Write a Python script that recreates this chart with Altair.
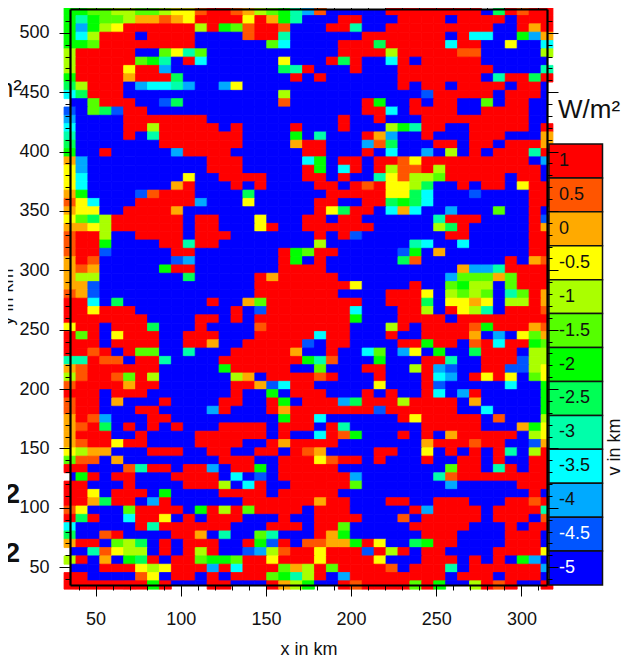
import altair as alt
import pandas as pd

levels = [1, 0.5, 0, -0.5, -1, -1.5, -2, -2.5, -3, -3.5, -4, -4.5, -5]
labels = ["1", "0.5", "0", "-0.5", "-1", "-1.5", "-2", "-2.5", "-3", "-3.5", "-4", "-4.5", "-5"]
colors = ["#FF0000", "#FF5500", "#FFAA00", "#FFFF00", "#AAFF00", "#55FF00", "#00FF00",
          "#00FF55", "#00FFAA", "#00FFFF", "#00AAFF", "#0055FF", "#0000FF"]
codes = "RUOJLHGSTYCNB"

rows = [
 "GGHHLLHHLJJURRUOLHGTCUBBBBBRRRRRRRRBSRURR",
 "GTGHHLOOUOJRRRRJROGTBBBRRBBBRRRRBRRRRBRRR",
 "GCGLJRRRRRRLRGHURRUBBBRRTBBRRRRRRRRRBBROR",
 "GYLRRRBRRRRBBBBURRTBBBBBBRRRRRRRBRYYBBGCO",
 "GGHRRRRRRRRBBBBBBHYBBBBRRRSRRRRRYRRBBJBBY",
 "LRRRRRBBHJTHBBBBBBBBBBBRRRRLRRRRRUUBBBBBL",
 "LRRRRRHGTBRYBBBBBBJBBBRSRBBYRBRRRRRBBBBBB",
 "LRRRRJRRCBBBBBBBBBSTRBBBRBBBRRRRRRRRBBBBT",
 "GRRRRORRRSBBBBBBBBBRBRBBBBBBRRRRRRRBTRRSR",
 "SLRRRBCYYTCBBCJBBBBBBBBBBBBBRBRRBRRRRBRRB",
 "YSRRRBBBBBBBBBBBBBLBBBBBBBBBBBNRRRRRBRRRB",
 "BBHRRRBBNSBBBBBBBBUBBBBBBRGBBRBRRBBHBRRBB",
 "NBHSNRRBBBBBBBBBBBBBBBBBBRRYBRRRRBBRRRRBB",
 "CBBBBRRRRRRRBBBBBBBBBBBRBBRBBBRRRRRRRRRBB",
 "YBBBBRRLRRRRRBRBBBBRBBBRBBBLGTRRBBRRRRRBR",
 "TBBBBRBTRRRRRRRBBBBGBTBBBROCBBRBBBRRRBBBO",
 "SBBBBBBBRRRRRRRBBBBORRBBBCUSBBBRRBRRBRRRO",
 "GBBRBBBBBCRRRRBBBBBBRRBBBRBYBBCBLBRBRRRTR",
 "OCBBBBBBBBBBRRRBBBBBYGBRRBRRUJRRRRRRRRRBC",
 "JCBBBBBBBBBBRRRBBBBBRGBYRBRLUURLRRRRRRRRB",
 "JYBBBBBBBBJBBRRRRBBBRRBRBBTJULLHRRRRRBRRB",
 "JYBBBBBBBORBBBRBRBBBBRRBRURJJLSBBRBRRBJRR",
 "OGBBBBNURRRBBBBSBBBBBBRRRRRJJSYBBBNBBBBRR",
 "UJYBBBRRRRRCBBBJBBBBBRRBBRRSGSYBBBBBBBBRR",
 "OJJBBRRRROBBBBBBBBBBBRJSRRBYOYBBCBBBHBBRB",
 "JHSLRRRRRRBRRBBBJBBBRRBRRBBBBBBTRRRBBBBRN",
 "OOJLRRRRRRBRRBBBJRBBRRRRRRBBBBBLSRBBBBBRO",
 "URRLBBRRRRBRRRBBBBBBBRBRNBBBBBBBRRBBBBBRR",
 "URRGBBBBRRTRRBBBBBBBBLBBBBBBBTYBBYBBBBBRR",
 "URRNBBBBBRRBBBBBBBRGHRRBBBBBNGBOBBBBBBBRR",
 "ORUBBBBBBNCBBBBBBBRGBRBBBBBBSUBBBBBBBRBOU",
 "OUOBBBBBGRRBBBBBBBRRRRBBBBBBBBBBBOCCTRRRR",
 "OLLBBBBBBBSBBBBBRORRRRRBBBBBBBBBCHHHOHRRR",
 "OONBBBBBBBBBBBBBRRRRRRRRJBBBBRBBHGLLBHRRR",
 "UONBBBBBBBBBBBBBRRRRRRRBBBBRRRJBLHLHBTHRO",
 "RRYBSBBBBBBBRBBOHRRRRRRRRBBRRRSBJJOJBLLRO",
 "RRJRRRBBBBBBBBRBNRRRRRRRYBBBRRLBRJLTBRRRU",
 "RRRRRRRBBBBRRBRBRRRRRRRRGBBBRRRRBRRRRRRRR",
 "JRRBRRRSBBBRBBBBURRRRRRRBBBLRBRRRRUGRRROU",
 "RHRBJRRRBBRRRBBBRRRRRYRRBBBRBBRRRROBCBJHO",
 "RRRBRRRRBBRROBBRRRRRNBRRBBBBRRGRRBURYRRGH",
 "RRURBRHHBBTBBBRRRRROBBRBBYHBCJBGBBSRRRBLL",
 "TTRUUBRRTBBBBRRRRRRRGTUBBBGBBBRRTBBRRRNLL",
 "OURRRRRRBBBBBGRRRRRBBHBBBRRBBLRCNBBRRNNLJ",
 "LURRUHRLBBBBBBLOBRRRRURBBBRBBBRYCBRJRJBHJ",
 "URRRRORRBBBBBBRRONYRRBBBBBJBBBRNBBBBBYBBG",
 "RRRBRRRBBBBBBBRBBGBRRRBBBRBRBBRYBCRBBBBBG",
 "URRBOBBBRBBBBRRBBRGBRRRCSRRRLRRRRBOBBBBBG",
 "URRBBBRRBBBBCRBBBRORRRRRRRNRRRRRRBBYBBBBG",
 "ORUCBBBRRBBBBBBBBBGRRYBBBBBBRJRRRRRBUBBBL",
 "OURSBRBRBRBBBRRRRBRRRBRTBBBBBBRRRRRBBBOGJ",
 "ORRRBBRBBBBRRRRRRBRBBYRUGBBBRBRBORRRRRBLJ",
 "OURRJRRBBBBRRRRBBRORRRRBBBBBBBORRRURRBBNO",
 "JLOOBBBRRRBBRRBBRRBRUOBBBBRRBBJBRBRBRTBLR",
 "HUUBOBBBBBBBBRRRBBRRRJURRBRBBBRBBRRBRBBRR",
 "RRBBBUTRRBRRCBRRGBRRRRRBBBBBBBBBHRRBTRBRR",
 "BGRBRRBBBRRRRBYBNBRRRRRRCBBBBBBTURRRRRRRR",
 "RRBBBRBBBBRRRLBYRBBRRRRRHBBBBBBBCBBBBBRRR",
 "RRJBRRRBGBBBBRRRRBRRRRRBBBBBBBBBBBBBBBBRB",
 "RROSRRBCRBBBBBBRRRRRRORRBBBRRBBRRRBBBRRUR",
 "UJBBBHRRRRBGRLRHRRRRBRRRBBBBBRCRRRRBRRRRT",
 "RSRBBYRRJBRBRRRBBBRBBRRRRBBBUBRRRRRBRRRBU",
 "YBBBBBRTRRRRRRBBBRRRBRRHBBBBBRRRRRBBBRBRR",
 "SBBURBBBBRROBTBBHTBBBROGBBBBBBRRRBBBBRRRB",
 "ORRBHLSBRBRRRBBRGNRBUUOOGRJBBSGRRBBBBRRRB",
 "BBTUJLLBRBRLRBBNCLURRJRRRNRLRBRRBBBBRRRRJ",
 "LRBOBGSRBRRHGGHRRJRRRJRRRRJBBBRRRBRBRBGCB",
 "BBBRRRJLJRRRCRYRRRHOLRHRRRRUBRRRTBRRRRRRC",
 "RRBBBBUJBRRBRBRRRHGTLRBCRRRRRRRRBRRRBRRRB",
 "RRRRRRRGRBBBRRBBBROLGBBRURRRRHRGBBLRURBBR",
]

bad = [(i, len(r)) for i, r in enumerate(rows) if len(r) != 41]
assert not bad and len(rows) == 70, (bad, len(rows))

x_cell_first, y_cell_first, cell_km = 35, 518, 7
x_major = list(range(50, 301, 50))
y_major = list(range(50, 501, 50))
x_minor = list(range(40, 311, 10))
y_minor = list(range(40, 511, 10))

records = []
for r, row in enumerate(rows):
    for k, ch in enumerate(row):
        xc = x_cell_first + cell_km * k
        yc = y_cell_first - cell_km * r
        records.append({"x0": xc - cell_km / 2, "x1": xc + cell_km / 2,
                        "y0": yc - cell_km / 2, "y1": yc + cell_km / 2,
                        "level": levels[codes.index(ch)], "r": r, "k": k})
cells = pd.DataFrame(records)
# outer fringe of the field (outside the frame): the lowest class is left white there
edge = cells[((cells.k == 0) | (cells.k == 40) | (cells.r == 0) | (cells.r == 69)) & (cells.level > -5)]

xs = alt.Scale(domain=[35, 315], nice=False, zero=False)
ys = alt.Scale(domain=[35, 520], nice=False, zero=False)
cs = alt.Scale(domain=levels, range=colors)
FONT = "Liberation Sans"


def field(df, clip):
    return alt.Chart(df).mark_rect(clip=clip, strokeWidth=0.8).encode(
        x=alt.X("x0:Q", scale=xs, axis=None),
        x2="x1:Q",
        y=alt.Y("y0:Q", scale=ys, axis=None),
        y2="y1:Q",
        color=alt.Color("level:O", scale=cs, legend=None),
        stroke=alt.Stroke("level:O", scale=cs, legend=None),
    )


dummy = pd.DataFrame({"x": [100], "y": [100]})


def ax(orient, values, size, labels=False, domain=False, title=None, **kw):
    return alt.Axis(orient=orient, values=values, tickSize=size, labels=labels, domain=domain,
                    title=title, grid=False, zindex=1, tickColor="black", tickWidth=1,
                    domainColor="black", domainWidth=2.2, labelFont=FONT, labelFontSize=18,
                    labelColor="#111", titleFont=FONT, titleFontSize=18, titleFontWeight="normal",
                    titleColor="#111", ticks=True, **kw)


def guide(xaxis, yaxis):
    return alt.Chart(dummy).mark_point(opacity=0).encode(
        x=alt.X("x:Q", scale=xs, axis=xaxis),
        y=alt.Y("y:Q", scale=ys, axis=yaxis),
    )


g1 = guide(ax("bottom", x_major, 11, labels=True, domain=True, title="x in km",
              labelPadding=14, titlePadding=12),
           ax("left", y_major, 11, labels=True, domain=True, labelPadding=10))
g2 = guide(ax("bottom", x_minor, 5), ax("left", y_minor, 5))
g3 = guide(ax("top", x_minor, 5, domain=True), ax("right", y_major, 11, domain=True))
g4 = guide(None, ax("right", y_minor, 5))


def note(text, x, y, size=18, weight="normal", align="left", angle=0, color="#111"):
    return alt.Chart(pd.DataFrame({"t": [text]})).mark_text(
        font=FONT, fontSize=size, fontWeight=weight, align=align, baseline="alphabetic",
        angle=angle, color=color, clip=False,
    ).encode(text="t:N", x=alt.value(x), y=alt.value(y))


notes = [
    note("W/m²", 488, 109, size=26),
    note("m²", -48, 88, size=26, align="right"),
    note("2", -50, 494, size=28, weight="bold", align="right"),
    note("2", -50, 553, size=28, weight="bold", align="right"),
    note("y in km", -57, 288, angle=270, align="center"),
    note("v in km", 550, 438, angle=270, align="center"),
]

main = alt.layer(field(edge, False), field(cells, True), g1, g2, g3, g4, *notes).resolve_axis(
    x="independent", y="independent")

bar = pd.DataFrame({"label": labels, "level": levels})
bar_y = alt.Y("label:N", sort=labels,
              scale=alt.Scale(domain=labels, range=[135, 576], paddingInner=0, paddingOuter=0),
              axis=None)
boxes = alt.Chart(bar).mark_rect(stroke="#111", strokeWidth=1.5).encode(
    x=alt.value(479), x2=alt.value(532.5), y=bar_y,
    color=alt.Color("level:O", scale=cs, legend=None),
)


def bar_text(df, color):
    return alt.Chart(df).mark_text(font=FONT, fontSize=18, align="left", baseline="middle",
                                   color=color).encode(
        text="label:N", x=alt.value(489), y=bar_y)


colorbar = alt.layer(boxes, bar_text(bar[bar.level > -4.5], "#111"),
                     bar_text(bar[bar.level <= -4.5], "white"))

chart = alt.layer(main, colorbar).resolve_scale(y="independent").properties(
    width=477, height=576,
    padding={"left": 62, "top": 1, "right": 74, "bottom": 72},
    autosize=alt.AutoSizeParams(type="none"),
    background="white",
).configure_view(stroke=None)

chart.save("out.html", embed_options={"renderer": "svg", "actions": False})
